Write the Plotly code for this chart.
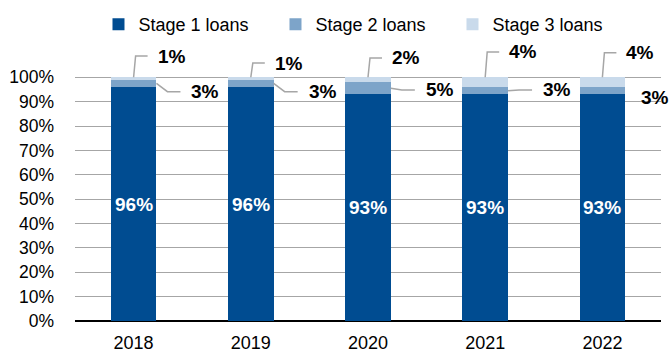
import plotly.graph_objects as go

# Loan book split by IFRS 9 stage, share of total (%)
years = ["2018", "2019", "2020", "2021", "2022"]
stage1 = [96, 96, 93, 93, 93]
stage2 = [3, 3, 5, 3, 3]
stage3 = [1, 1, 2, 4, 4]
series_names = ["Stage 1 loans", "Stage 2 loans", "Stage 3 loans"]
y_ticks = list(range(0, 101, 10))

colors = ["#004C91", "#7DA4C9", "#C9DAEB"]
FONT = "Liberation Sans, Arial, sans-serif"
GRID = "#A6A6A6"
BAR_W = 0.39

# label placement (value-axis height of each outside label, px offsets)
s3_label_h = [108.7, 105.8, 107.9, 110.4, 110.1]
s2_label_h = [94.1, 94.1, 94.8, 94.8, 91.5]
s2_leader = [True, True, True, True, False]
PX = 1 / 117.2  # one pixel in category units

x = list(range(len(years)))
fig = go.Figure()
for name, vals, col in zip(series_names, [stage1, stage2, stage3], colors):
    fig.add_trace(go.Bar(
        x=x, y=vals, name=name, width=BAR_W,
        marker=dict(color=col, line=dict(width=0)),
        hoverinfo="skip",
    ))

annotations = []
shapes = []
for i in range(len(years)):
    # Stage 1 value inside the bar
    annotations.append(dict(
        x=i, y=stage1[i] / 2, xref="x", yref="y", text=f"<b>{stage1[i]}%</b>",
        showarrow=False, font=dict(family=FONT, size=19, color="white"),
    ))
    total = stage1[i] + stage2[i] + stage3[i]
    # Stage 3 label with elbow leader from the bar top
    h3 = s3_label_h[i]
    shapes.append(dict(
        type="path", xref="x", yref="y",
        path=f"M {i},{total} L {i + 2 * PX},{h3} L {i + 14 * PX},{h3}",
        line=dict(color=GRID, width=1.5),
    ))
    annotations.append(dict(
        x=i + 22 * PX, y=h3, xref="x", yref="y", xanchor="left",
        text=f"<b>{stage3[i]}%</b>", showarrow=False,
        font=dict(family=FONT, size=19, color="black"),
    ))
    # Stage 2 label with leader from the segment's right side
    mid2 = stage1[i] + stage2[i] / 2
    h2 = s2_label_h[i]
    edge = i + BAR_W / 2
    if s2_leader[i]:
        shapes.append(dict(
            type="path", xref="x", yref="y",
            path=f"M {edge},{mid2} L {edge + 11 * PX},{h2} L {edge + 24 * PX},{h2}",
            line=dict(color=GRID, width=1.5),
        ))
        lx = edge + 33 * PX
    else:
        lx = edge + 14 * PX
    annotations.append(dict(
        x=lx, y=h2, xref="x", yref="y", xanchor="left",
        text=f"<b>{stage2[i]}%</b>", showarrow=False,
        font=dict(family=FONT, size=19, color="black"),
    ))

fig.update_layout(
    barmode="stack",
    width=670, height=352,
    margin=dict(l=75, r=9, t=48, b=31, autoexpand=False),
    paper_bgcolor="white", plot_bgcolor="white",
    font=dict(family=FONT, size=18, color="black"),
    showlegend=True,
    legend=dict(
        orientation="h", xref="container", yref="container",
        x=0.147, xanchor="left", y=0.93, yanchor="middle",
        font=dict(family=FONT, size=18, color="black"),
        entrywidth=132, entrywidthmode="pixels",
        itemwidth=30, traceorder="normal", bgcolor="rgba(0,0,0,0)",
        borderwidth=0,
    ),
    annotations=annotations,
    shapes=shapes,
    xaxis=dict(
        range=[-0.5, len(years) - 0.5],
        tickvals=x, ticktext=years,
        showgrid=False, zeroline=False, showline=False, ticks="",
        tickfont=dict(family=FONT, size=18, color="black"),
        ticklabelstandoff=9, automargin=False,
    ),
    yaxis=dict(
        range=[0, 112],
        tickvals=y_ticks, ticktext=[f"{v}%" for v in y_ticks],
        showgrid=True, gridcolor=GRID, gridwidth=1,
        zeroline=True, zerolinecolor="black", zerolinewidth=1.5,
        showline=False, ticks="",
        tickfont=dict(family=FONT, size=17.5, color="black"),
        ticklabelstandoff=20, automargin=False,
    ),
)

fig.write_html("out.html")
